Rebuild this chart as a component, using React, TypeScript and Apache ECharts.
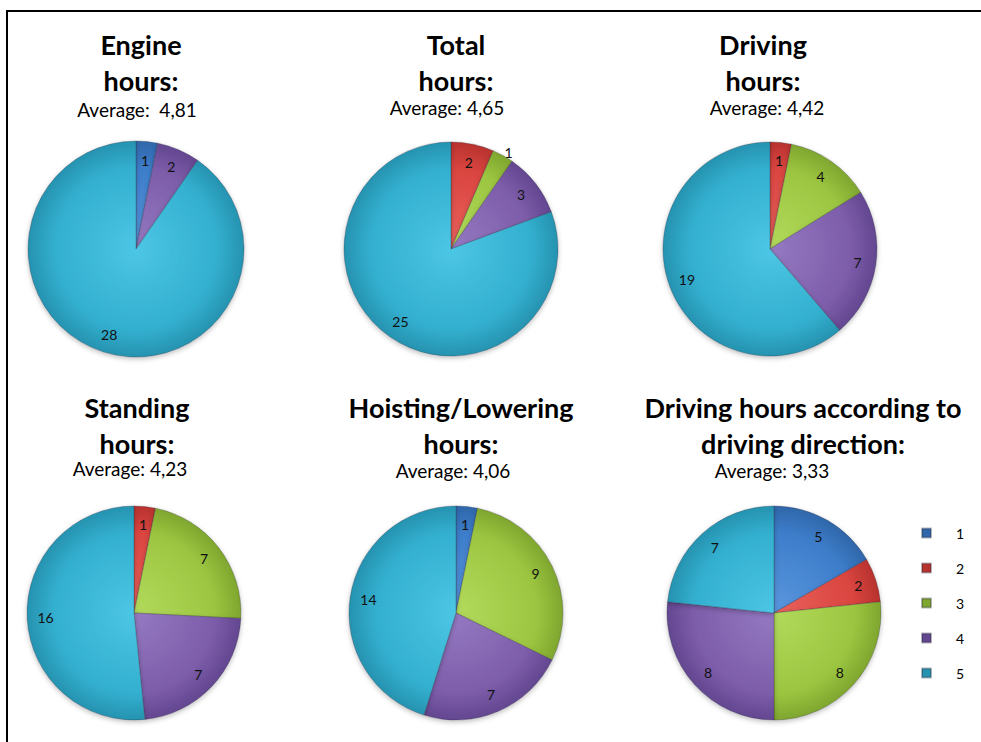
import React, { useEffect, useRef } from "react";
import * as echarts from "echarts";

// ---- data ----
const categories = ["1", "2", "3", "4", "5"];
const engineValues = [1, 0, 0, 2, 28];
const totalValues = [0, 2, 1, 3, 25];
const drivingValues = [0, 1, 4, 7, 19];
const standingValues = [0, 1, 7, 7, 16];
const hoistingValues = [1, 0, 9, 7, 14];
const directionValues = [5, 2, 8, 8, 7];
const chartTitles = [
  "Engine\nhours:",
  "Total\nhours:",
  "Driving\nhours:",
  "Standing\nhours:",
  "Hoisting/Lowering\nhours:",
  "Driving hours according to\ndriving direction:",
];
const averageLabels = [
  "Average:  4,81",
  "Average: 4,65",
  "Average: 4,42",
  "Average: 4,23",
  "Average: 4,06",
  "Average: 3,33",
];
const allValues = [engineValues, totalValues, drivingValues, standingValues, hoistingValues, directionValues];

// ---- styling / layout ----
const colors = ["#3D7DCA", "#DA4540", "#9CC641", "#7D5DAA", "#33AFCF"];
const lightColors = ["#5A97DE", "#EA625C", "#B2DA5C", "#9579C2", "#4CC6E4"];
const darkColors = ["#2F67AA", "#B8322E", "#7FA62E", "#634690", "#2693B0"];
// tx/ty: title centre x and first-line centre y; ax/ay: average text centre
const pieLayout = [
  { cx: 136, cy: 249, r: 108, tx: 136, ty: 44, ax: 132, ay: 109 },
  { cx: 451, cy: 249, r: 107, tx: 451, ty: 44, ax: 442, ay: 107 },
  { cx: 770, cy: 249, r: 107, tx: 758, ty: 44, ax: 762, ay: 107 },
  { cx: 134, cy: 613, r: 107, tx: 132, ty: 407, ax: 125, ay: 468 },
  { cx: 456, cy: 613, r: 107, tx: 456, ty: 407, ax: 448, ay: 470 },
  { cx: 774, cy: 613, r: 107, tx: 798, ty: 407, ax: 767, ay: 470 },
];
const titleLineGap = 36;
const outsideLabel: string[][] = [[], ["3"], [], [], [], []];
const FONT = "Lato, 'Open Sans', sans-serif";

export default function App() {
  const ref = useRef<HTMLDivElement>(null);
  useEffect(() => {
    document.body.style.margin = "0";
    if (!ref.current) return;
    const chart = echarts.init(ref.current, undefined, { renderer: "svg" });

    const mainSeries: any[] = [];
    const labelSeries: any[] = [];
    allValues.forEach((vals, i) => {
      const L = pieLayout[i];
      const items = categories
        .map((c, k) => ({ c, k, v: vals[k] }))
        .filter((d) => d.v > 0);
      mainSeries.push({
        type: "pie",
        center: [L.cx, L.cy],
        radius: [0, L.r],
        startAngle: 90,
        clockwise: true,
        silent: true,
        label: { show: false },
        labelLine: { show: false },
        emphasis: { disabled: true },
        data: items.map((d) => ({
          name: d.c,
          value: d.v,
          itemStyle: {
            color: {
              type: "radial",
              x: L.cx,
              y: L.cy,
              r: L.r,
              global: true,
              colorStops: [
                { offset: 0, color: lightColors[d.k] },
                { offset: 0.75, color: colors[d.k] },
                { offset: 1, color: darkColors[d.k] },
              ],
            },
            borderColor: "rgba(40,40,60,0.35)",
            borderWidth: 0.8,
            shadowBlur: 5,
            shadowOffsetY: 2,
            shadowColor: "rgba(0,0,0,0.25)",
          },
        })),
      });
      labelSeries.push({
        type: "pie",
        center: [L.cx, L.cy],
        radius: [L.r * 0.6, L.r],
        startAngle: 90,
        clockwise: true,
        silent: true,
        emphasis: { disabled: true },
        itemStyle: { color: "rgba(0,0,0,0)", borderWidth: 0 },
        label: {
          show: true,
          position: "inside",
          formatter: "{c}",
          fontFamily: FONT,
          fontSize: 14,
          color: "#111",
        },
        labelLine: { show: false, length: 3, length2: 0 },
        data: items.map((d) => {
          const out = outsideLabel[i].includes(d.c);
          return {
            name: d.c,
            value: d.v,
            label: out ? { position: "outside", distanceToLabelLine: 0 } : undefined,
          };
        }),
      });
    });

    const titles: any[] = [];
    const PAD = 5;
    pieLayout.forEach((L, i) => {
      chartTitles[i].split("\n").forEach((line, j) => {
        titles.push({
          text: line,
          left: L.tx,
          top: L.ty + j * titleLineGap - 14 - PAD,
          textAlign: "center",
          textStyle: {
            fontFamily: FONT,
            fontSize: 27,
            fontWeight: "bold",
            lineHeight: 28,
            color: "#000",
          },
        });
      });
      titles.push({
        text: averageLabels[i],
        left: L.ax,
        top: L.ay - 9 - PAD,
        textAlign: "center",
        textStyle: {
          fontFamily: FONT,
          fontSize: 19,
          fontWeight: "normal",
          lineHeight: 18,
          color: "#000",
        },
      });
    });

    chart.setOption({
      animation: false,
      backgroundColor: "#fff",
      title: titles,
      legend: {
        orient: "vertical",
        left: 916,
        top: 521,
        data: categories,
        icon: "rect",
        itemWidth: 9,
        itemHeight: 9,
        itemGap: 21,
        selectedMode: false,
        textStyle: {
          fontFamily: FONT,
          fontSize: 14,
          color: "#000",
          padding: [0, 0, 0, 20],
        },
      },
      graphic: [
        {
          type: "rect",
          shape: { x: 7, y: 11, width: 1100, height: 900 },
          style: { fill: "none", stroke: "#000", lineWidth: 2 },
          silent: true,
          z: 100,
        },
      ],
      series: [...mainSeries, ...labelSeries],
    });
    return () => chart.dispose();
  }, []);
  return <div ref={ref} style={{ width: 981, height: 742 }} />;
}
